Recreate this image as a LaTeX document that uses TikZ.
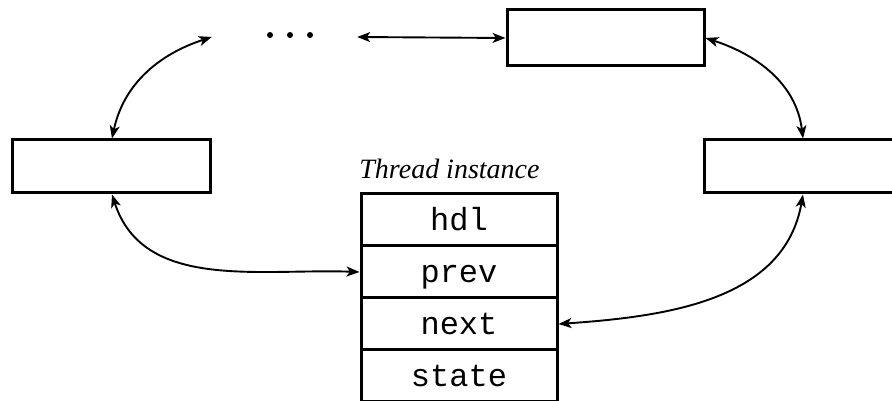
\documentclass[tikz,border=0pt]{standalone}
\usepackage{fontspec}
\setmainfont{Liberation Serif}
\setmonofont{Liberation Mono}
\usetikzlibrary{arrows.meta}
\begin{document}
\begin{tikzpicture}[x=1pt,y=1pt,
  listbox/.style={draw, line width=3pt, minimum width=198pt, minimum height=53pt, inner sep=0pt},
  field/.style={draw, line width=3pt, minimum width=196pt, minimum height=52pt, inner sep=0pt,
                text height=26pt, text depth=4pt,
                font=\fontsize{32}{32}\selectfont\ttfamily},
  link/.style={line width=1.9pt, {Stealth[length=13pt,width=10pt,inset=3.5pt]}-{Stealth[length=13pt,width=10pt,inset=3.5pt]}}]
\useasboundingbox (0,0) rectangle (892,401);
\clip (0,0) rectangle (892,401);

% neighbouring list elements
\node[listbox] (left)  at (111,234.5) {};
\node[listbox] (right) at (803,234.5) {};
\node[listbox, minimum width=197pt, minimum height=56pt] (top) at (605.5,363) {};

% elided part of the list
\node[minimum width=145pt, minimum height=10pt, inner sep=0pt] (dots) at (284.5,364) {};
\foreach \dx in {270,290,310} \fill (\dx,366) circle (3pt);

% thread instance record
\node[field] (hdl)   at (459,181) {hdl};
\node[field] (prev)  at (459,129) {prev};
\node[field] (next)  at (459,77)  {next};
\node[field] (state) at (459,25)  {state};
\node[font=\fontsize{28}{28}\selectfont\itshape, anchor=base] (title) at (449.5,222) {Thread instance};

% doubly linked connections
\draw[link] (dots.east) -- (top.west);
\draw[link] ([xshift=1pt]left.north) to[out=78, in=198] (dots.west);
\draw[link] (top.east) to[out=-18, in=97] (right.north);
\draw[link] ([xshift=1pt]left.south) to[out=-72, in=178] (prev.west);
\draw[link] (right.south) to[out=-100, in=4] (next.east);
\end{tikzpicture}
\end{document}
